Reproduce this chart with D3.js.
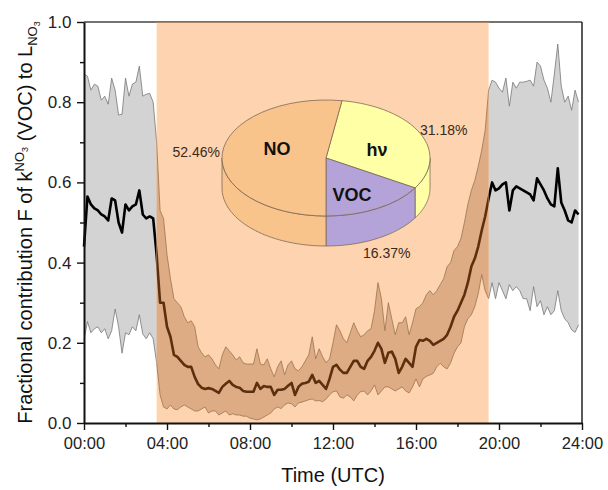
<!DOCTYPE html>
<html>
<head>
<meta charset="utf-8">
<script src="https://cdn.jsdelivr.net/npm/d3@7"></script>
<style>
  body { margin: 0; background: #fff; }
  svg { font-family: Arial, "Liberation Sans", sans-serif; }
</style>
</head>
<body>
<svg id="chart" width="608" height="490"></svg>
<script>
// ---- data (10-min resolution, 00:00 .. 23:50 UTC) ----
const meanF = [
  0.44,0.565,0.545,0.535,0.53,0.52,0.515,0.505,0.56,0.555,
  0.50,0.475,0.545,0.53,0.54,0.545,0.58,0.52,0.51,0.515,
  0.51,0.42,0.30,0.30,0.24,0.215,0.17,0.165,0.155,0.145,
  0.14,0.14,0.115,0.097,0.088,0.085,0.087,0.085,0.08,0.075,
  0.09,0.098,0.105,0.095,0.09,0.088,0.08,0.078,0.078,0.078,
  0.10,0.085,0.092,0.09,0.09,0.07,0.083,0.083,0.085,0.093,
  0.10,0.07,0.09,0.098,0.10,0.103,0.12,0.10,0.105,0.095,
  0.085,0.11,0.14,0.145,0.133,0.125,0.125,0.14,0.155,0.155,
  0.14,0.135,0.155,0.165,0.18,0.20,0.185,0.15,0.175,0.178,
  0.16,0.125,0.14,0.16,0.15,0.14,0.19,0.207,0.205,0.21,
  0.205,0.195,0.20,0.205,0.21,0.22,0.24,0.265,0.28,0.30,
  0.32,0.35,0.39,0.41,0.44,0.48,0.515,0.56,0.60,0.58,
  0.585,0.595,0.60,0.53,0.58,0.59,0.585,0.58,0.575,0.57,
  0.555,0.61,0.595,0.58,0.56,0.545,0.54,0.635,0.55,0.53,
  0.505,0.50,0.53,0.52
]
const upperF = [
  0.87,0.865,0.83,0.845,0.84,0.805,0.815,0.795,0.86,0.83,
  0.768,0.77,0.86,0.815,0.845,0.85,0.89,0.815,0.82,0.822,
  0.80,0.70,0.53,0.51,0.42,0.36,0.31,0.30,0.29,0.265,
  0.25,0.255,0.24,0.19,0.175,0.165,0.17,0.16,0.145,0.135,
  0.17,0.19,0.18,0.17,0.157,0.165,0.15,0.147,0.147,0.147,
  0.185,0.147,0.145,0.16,0.135,0.115,0.14,0.155,0.12,0.145,
  0.155,0.135,0.13,0.14,0.155,0.17,0.215,0.16,0.185,0.165,
  0.15,0.16,0.20,0.245,0.23,0.21,0.20,0.225,0.25,0.23,
  0.215,0.22,0.23,0.235,0.28,0.35,0.31,0.23,0.30,0.26,
  0.22,0.25,0.25,0.265,0.22,0.25,0.285,0.29,0.30,0.32,
  0.33,0.32,0.33,0.345,0.36,0.39,0.40,0.43,0.44,0.46,
  0.50,0.545,0.58,0.605,0.64,0.68,0.73,0.83,0.855,0.85,
  0.835,0.825,0.86,0.79,0.85,0.835,0.85,0.85,0.852,0.855,
  0.84,0.90,0.89,0.855,0.835,0.80,0.87,0.945,0.84,0.80,
  0.815,0.78,0.83,0.80
]
const lowerF = [
  0.207,0.253,0.225,0.235,0.24,0.225,0.235,0.21,0.23,0.284,
  0.24,0.174,0.225,0.22,0.24,0.23,0.27,0.222,0.21,0.225,
  0.21,0.15,0.07,0.04,0.035,0.045,0.035,0.033,0.04,0.045,
  0.04,0.035,0.03,0.03,0.035,0.04,0.025,0.03,0.03,0.02,
  0.025,0.03,0.02,0.023,0.02,0.02,0.017,0.017,0.012,0.01,
  0.008,0.01,0.015,0.02,0.025,0.035,0.04,0.036,0.045,0.05,
  0.048,0.04,0.05,0.052,0.055,0.058,0.06,0.055,0.056,0.053,
  0.06,0.07,0.078,0.08,0.065,0.062,0.07,0.065,0.055,0.07,
  0.078,0.08,0.07,0.08,0.095,0.07,0.08,0.09,0.09,0.085,
  0.08,0.085,0.09,0.08,0.075,0.09,0.11,0.09,0.11,0.116,
  0.12,0.124,0.14,0.149,0.14,0.135,0.15,0.174,0.19,0.20,
  0.24,0.26,0.27,0.29,0.323,0.37,0.33,0.31,0.35,0.31,
  0.35,0.33,0.31,0.345,0.33,0.34,0.33,0.31,0.31,0.28,
  0.34,0.29,0.305,0.27,0.29,0.27,0.28,0.33,0.28,0.26,
  0.25,0.232,0.226,0.245
]
const hours = meanF.map((d, i) => i / 6)

// night-time shading (hours UTC)
const shadeStart = 3.5
const shadeEnd = 19.5

// pie inset
const sliceNames = ["h\u03bd", "VOC", "NO"]
const sliceShares = [31.18, 16.37, 52.46]
const sliceColors = ["#FFFFA6", "#B3A3D9", "#F9C38C"]

const xTicks = [0, 4, 8, 12, 16, 20, 24]
const xMinor = [2, 6, 10, 14, 18, 22]
const yTicks = [0, 0.2, 0.4, 0.6, 0.8, 1.0]
const yMinor = [0.1, 0.3, 0.5, 0.7, 0.9]

// ---- layout ----
const margin = { top: 22, right: 26, bottom: 67, left: 84 }
const width = 608 - margin.left - margin.right
const height = 490 - margin.top - margin.bottom

const svg = d3.select("#chart")
const g = svg.append("g").attr("transform", `translate(${margin.left},${margin.top})`)

const x = d3.scaleLinear().domain([0, 24]).range([0, width])
const y = d3.scaleLinear().domain([0, 1]).range([height, 0])

svg.append("defs").append("clipPath").attr("id", "night")
  .append("rect")
    .attr("x", x(shadeStart)).attr("y", 0)
    .attr("width", x(shadeEnd) - x(shadeStart)).attr("height", height)

const area = d3.area()
  .x((d, i) => x(hours[i]))
  .y0((d, i) => y(lowerF[i]))
  .y1((d, i) => y(upperF[i]))
const edge = arr => d3.line().x((d, i) => x(hours[i])).y(d => y(d))(arr)

// draws band + mean in the given colours
function drawSeries(sel, bandFill, edgeColor, lineColor) {
  sel.append("path").datum(meanF).attr("d", area).attr("fill", bandFill)
  sel.append("path").attr("d", edge(upperF)).attr("fill", "none").attr("stroke", edgeColor).attr("stroke-width", 0.8)
  sel.append("path").attr("d", edge(lowerF)).attr("fill", "none").attr("stroke", edgeColor).attr("stroke-width", 0.8)
  sel.append("path")
    .attr("d", edge(meanF))
    .attr("fill", "none")
    .attr("stroke", lineColor)
    .attr("stroke-width", 2.6)
    .attr("stroke-linejoin", "round")
}

drawSeries(g.append("g"), "#d3d3d3", "#777", "#000")

// top frame line (under the shading)
g.append("line")
  .attr("x1", 0).attr("x2", width).attr("y1", 0).attr("y2", 0)
  .attr("stroke", "#444").attr("stroke-width", 1.5)

// shaded night window
g.append("rect")
  .attr("x", x(shadeStart))
  .attr("y", 0)
  .attr("width", x(shadeEnd) - x(shadeStart))
  .attr("height", height)
  .attr("fill", "#FDD4AF")
g.append("line")
  .attr("x1", x(shadeStart)).attr("x2", x(shadeEnd)).attr("y1", 0).attr("y2", 0)
  .attr("stroke", "#8a6a50").attr("stroke-width", 1.5)

drawSeries(g.append("g").attr("clip-path", "url(#night)"), "#DEAC84", "#9c7350", "#5c300e")

// right frame line
g.append("line")
  .attr("x1", width).attr("x2", width).attr("y1", 0).attr("y2", height)
  .attr("stroke", "#222").attr("stroke-width", 1.5)

// ---- axes ----
const pad = h => (h < 10 ? "0" + h : "" + h) + ":00"

const xAxis = g.append("g")
  .attr("transform", `translate(0,${height})`)
  .call(d3.axisBottom(x).tickValues(xTicks).tickFormat(pad).tickSize(7).tickSizeOuter(0))
g.append("g")
  .attr("transform", `translate(0,${height})`)
  .call(d3.axisBottom(x).tickValues(xMinor).tickFormat("").tickSize(4).tickSizeOuter(0))
  .call(a => a.select(".domain").remove())

const yAxis = g.append("g")
  .call(d3.axisLeft(y).tickValues(yTicks).tickFormat(d3.format(".1f")).tickSize(7).tickSizeOuter(0))
g.append("g")
  .call(d3.axisLeft(y).tickValues(yMinor).tickFormat("").tickSize(4).tickSizeOuter(0))
  .call(a => a.select(".domain").remove())

g.selectAll(".domain").attr("stroke", "#111").attr("stroke-width", 2)
g.selectAll(".tick line").attr("stroke", "#111").attr("stroke-width", 1.4)
xAxis.selectAll("text").attr("font-size", 16.5).attr("fill", "#222").attr("dy", "0.95em")
yAxis.selectAll("text").attr("font-size", 17).attr("fill", "#222").attr("dx", "-0.15em")

svg.append("text")
  .attr("x", margin.left + width / 2)
  .attr("y", 482)
  .attr("text-anchor", "middle")
  .attr("font-size", 20)
  .attr("fill", "#111")
  .text("Time (UTC)")

const yl = svg.append("text")
  .attr("transform", `translate(32,${margin.top + height / 2}) rotate(-90)`)
  .attr("text-anchor", "middle")
  .attr("font-size", 20)
  .attr("fill", "#111")
yl.append("tspan").text("Fractional contribution F of k")
yl.append("tspan").attr("font-size", 13).attr("dy", -8).text("NO")
yl.append("tspan").attr("font-size", 9).attr("dy", 4).text("3")
yl.append("tspan").attr("dy", 4).text(" (VOC) to L")
yl.append("tspan").attr("font-size", 13).attr("dy", 5).text("NO")
yl.append("tspan").attr("font-size", 9).attr("dy", 3).text("3")

// ---- 3D pie inset ----
const pieCx = 326, pieCy = 158, rx = 104, ry = 58, depth = 30
const total = d3.sum(sliceShares)
const start = Math.PI - 2 * Math.PI * (sliceShares[0] + sliceShares[1]) / total
const arcs = d3.pie().sort(null).value(d => d).startAngle(start).endAngle(start + 2 * Math.PI)(sliceShares)

const pieG = svg.append("g")
const pt = (a, dz) => [pieCx + rx * Math.sin(a), pieCy - ry * Math.cos(a) + dz]

// side walls (front half only)
arcs.forEach((a, i) => {
  const a0 = Math.max(a.startAngle, Math.PI / 2)
  const a1 = Math.min(a.endAngle, 3 * Math.PI / 2)
  if (a0 >= a1) return
  const steps = d3.range(0, 41).map(k => a0 + (a1 - a0) * k / 40)
  const pts = steps.map(s => pt(s, 0)).concat(steps.slice().reverse().map(s => pt(s, depth)))
  pieG.append("path")
    .attr("d", d3.line()(pts) + "Z")
    .attr("fill", sliceColors[i])
    .attr("stroke", "#7d6a55")
    .attr("stroke-width", 0.8)
})

// top face
const topFace = pieG.append("g")
  .attr("transform", `translate(${pieCx},${pieCy}) scale(1,${ry / rx})`)
topFace.selectAll("path")
  .data(arcs)
  .enter()
  .append("path")
    .attr("d", d3.arc().innerRadius(0).outerRadius(rx))
    .attr("fill", (d, i) => sliceColors[i])
    .attr("stroke", "#7d6a55")
    .attr("stroke-width", 0.8)
    .attr("vector-effect", "non-scaling-stroke")

// slice labels
const sliceLabelPos = [[377, 150], [352, 195], [277, 149]]
pieG.selectAll(".slice-label")
  .data(sliceNames)
  .enter()
  .append("text")
    .attr("class", "slice-label")
    .attr("x", (d, i) => sliceLabelPos[i][0])
    .attr("y", (d, i) => sliceLabelPos[i][1])
    .attr("dy", "0.36em")
    .attr("text-anchor", "middle")
    .attr("font-size", 18)
    .attr("font-weight", "bold")
    .attr("fill", "#111")
    .text(d => d)

// percentage labels
const pctPos = [[420, 135, "start"], [363, 258, "start"], [220, 157, "end"]]
pieG.selectAll(".pct")
  .data(sliceShares)
  .enter()
  .append("text")
    .attr("class", "pct")
    .attr("x", (d, i) => pctPos[i][0])
    .attr("y", (d, i) => pctPos[i][1])
    .attr("text-anchor", (d, i) => pctPos[i][2])
    .attr("font-size", 14)
    .attr("fill", "#3a2a1c")
    .text(d => d.toFixed(2) + "%")
</script>
</body>
</html>
